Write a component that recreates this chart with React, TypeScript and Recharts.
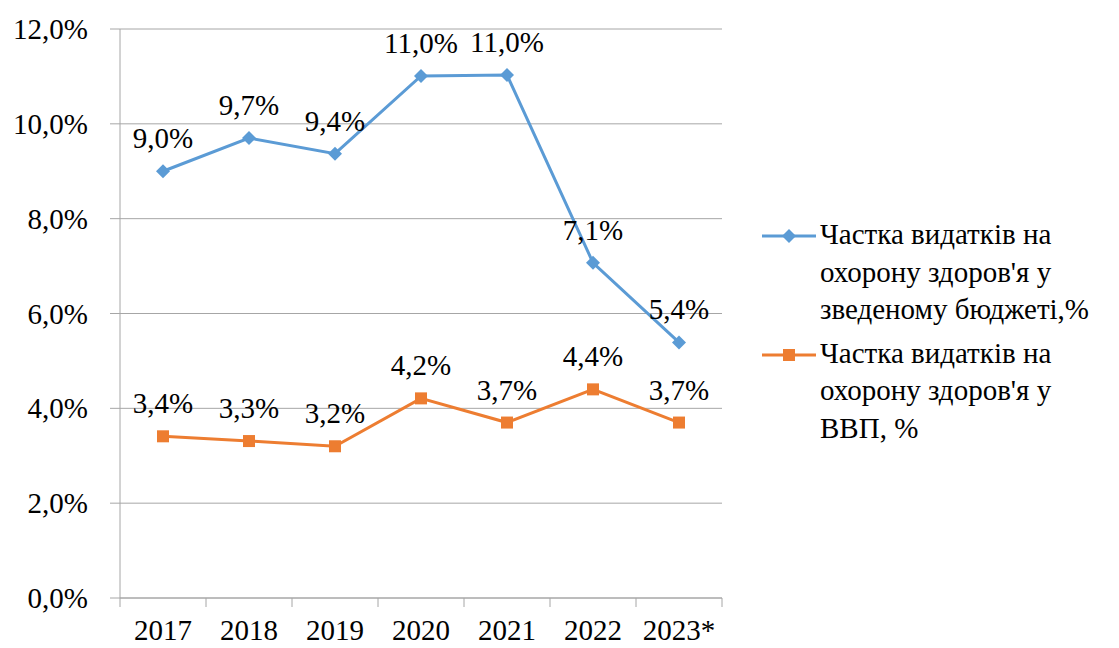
import React from 'react';
import { LineChart, Line, XAxis, YAxis, CartesianGrid, LabelList } from 'recharts';

const categories = ['2017', '2018', '2019', '2020', '2021', '2022', '2023*'];
const budgetShare = [9.0, 9.7, 9.37, 11.01, 11.03, 7.07, 5.39];
const gdpShare = [3.41, 3.31, 3.2, 4.21, 3.7, 4.4, 3.7];
const yTicks = [0, 2, 4, 6, 8, 10, 12];
const seriesNames = [
  ["Частка видатків на", "охорону здоров'я у", 'зведеному бюджеті,%'],
  ["Частка видатків на", "охорону здоров'я у", 'ВВП, %'],
];

const BLUE = '#5B9BD5';
const ORANGE = '#ED7D31';
const GRID = '#a6a6a6';
const FONT = "'Liberation Serif', 'Times New Roman', Tinos, 'DejaVu Serif', serif";

const data = categories.map((c, i) => ({
  pos: i + 0.5,
  cat: c,
  budget: budgetShare[i],
  gdp: gdpShare[i],
}));

const xTicks: number[] = [];
for (let i = 0; i <= categories.length; i++) {
  xTicks.push(i);
  if (i < categories.length) xTicks.push(i + 0.5);
}

const fmt = (v: number) => v.toFixed(1).replace('.', ',') + '%';

const XTick = (props: any) => {
  const { x, y, payload } = props;
  const v = payload.value as number;
  if (Number.isInteger(v)) {
    return <line x1={x} x2={x} y1={y} y2={y + 9} stroke={GRID} strokeWidth={1} />;
  }
  const label = categories[Math.floor(v)];
  return (
    <text x={x} y={y + 42} textAnchor="middle" style={{ fontSize: 29, fontFamily: FONT }} fill="#000">
      {label}
    </text>
  );
};

const YTick = (props: any) => {
  const { x, y, payload } = props;
  return (
    <text x={x} y={y + 10} textAnchor="end" style={{ fontSize: 29, fontFamily: FONT }} fill="#000">
      {fmt(payload.value)}
    </text>
  );
};

const Diamond = (props: any) => {
  const { cx, cy } = props;
  if (cx == null || cy == null) return null;
  const r = 7;
  return <path d={`M${cx},${cy - r}L${cx + r},${cy}L${cx},${cy + r}L${cx - r},${cy}Z`} fill={BLUE} />;
};

const Square = (props: any) => {
  const { cx, cy } = props;
  if (cx == null || cy == null) return null;
  const s = 12;
  return <rect x={cx - s / 2} y={cy - s / 2} width={s} height={s} fill={ORANGE} />;
};

const TopLabel = (props: any) => {
  const { x, y, value } = props;
  return (
    <text x={x} y={y - 23} textAnchor="middle" style={{ fontSize: 29, fontFamily: FONT }} fill="#000">
      {fmt(value)}
    </text>
  );
};

const LegendBox = () => {
  const items = [
    { color: BLUE, shape: 'diamond', lines: seriesNames[0] },
    { color: ORANGE, shape: 'square', lines: seriesNames[1] },
  ];
  return (
    <div style={{ position: 'absolute', left: 758, top: 216, width: 361, fontFamily: FONT, fontSize: 29, color: '#000' }}>
      {items.map((it, idx) => (
        <div key={idx} style={{ display: 'flex', alignItems: 'flex-start', marginBottom: idx === 0 ? 6 : 0 }}>
          <svg width={58} height={38} style={{ flex: '0 0 auto' }}>
            <line x1={4} x2={58} y1={20} y2={20} stroke={it.color} strokeWidth={3} />
            {it.shape === 'diamond' ? (
              <path d="M31,13L38,20L31,27L24,20Z" fill={it.color} />
            ) : (
              <rect x={25} y={14} width={12} height={12} fill={it.color} />
            )}
          </svg>
          <div style={{ lineHeight: '37.5px', marginLeft: 4 }}>
            {it.lines.map((l, j) => (
              <div key={j} style={{ whiteSpace: 'nowrap' }}>{l}</div>
            ))}
          </div>
        </div>
      ))}
    </div>
  );
};

export default function App() {
  return (
    <div style={{ position: 'absolute', left: 0, top: 0, width: 1119, height: 648, background: '#fff' }}>
      <LineChart
        width={1119}
        height={648}
        data={data}
        margin={{ top: 29, right: 397, bottom: 0, left: 0 }}
      >
        <CartesianGrid horizontal vertical={false} stroke={GRID} strokeWidth={1} />
        <XAxis
          dataKey="pos"
          type="number"
          domain={[0, categories.length]}
          ticks={xTicks}
          interval={0}
          height={50}
          tickLine={false}
          tickSize={0}
          tickMargin={0}
          axisLine={{ stroke: GRID, strokeWidth: 1 }}
          tick={<XTick />}
        />
        <YAxis
          type="number"
          domain={[0, 12]}
          ticks={yTicks}
          interval={0}
          width={120}
          tickSize={10}
          tickMargin={22}
          axisLine={{ stroke: GRID, strokeWidth: 1 }}
          tickLine={{ stroke: GRID, strokeWidth: 1 }}
          tick={<YTick />}
        />
        <Line
          dataKey="budget"
          stroke={BLUE}
          strokeWidth={3}
          dot={<Diamond />}
          activeDot={false}
          isAnimationActive={false}
        >
          <LabelList dataKey="budget" content={<TopLabel />} />
        </Line>
        <Line
          dataKey="gdp"
          stroke={ORANGE}
          strokeWidth={3}
          dot={<Square />}
          activeDot={false}
          isAnimationActive={false}
        >
          <LabelList dataKey="gdp" content={<TopLabel />} />
        </Line>
      </LineChart>
      <LegendBox />
    </div>
  );
}
